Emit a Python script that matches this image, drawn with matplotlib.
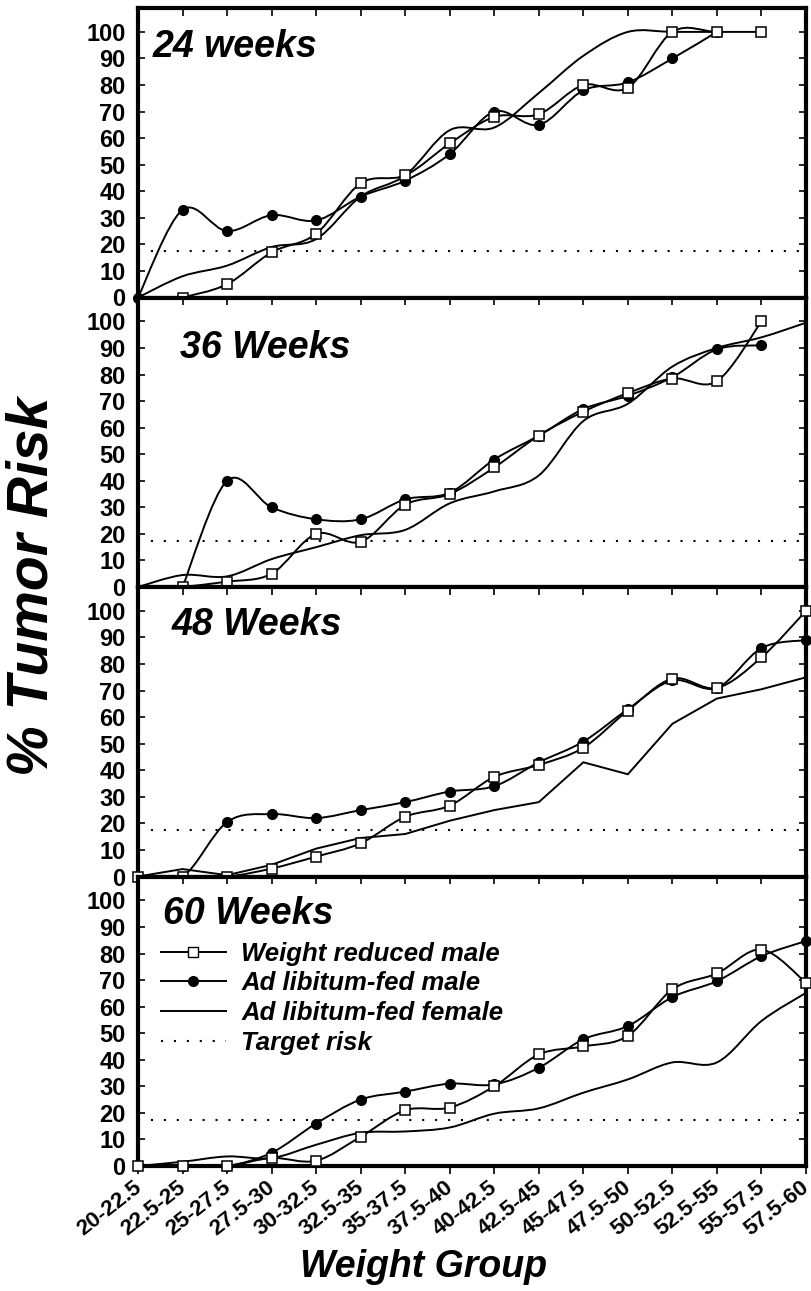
import numpy as np
import matplotlib
matplotlib.use("Agg")
import matplotlib.pyplot as plt
from matplotlib.path import Path
from matplotlib.patches import PathPatch
from matplotlib.lines import Line2D
from matplotlib.transforms import ScaledTranslation

nan = np.nan

categories = ["20-22.5", "22.5-25", "25-27.5", "27.5-30", "30-32.5", "32.5-35",
              "35-37.5", "37.5-40", "40-42.5", "42.5-45", "45-47.5", "47.5-50",
              "50-52.5", "52.5-55", "55-57.5", "57.5-60"]

panel_titles = ["24 weeks", "36 Weeks", "48 Weeks", "60 Weeks"]

# Weight reduced male (open squares)
reduced_24 = [nan, 0, 5, 17, 24, 43, 46, 58, 68, 69, 80, 79, 100, 100, 100, nan]
reduced_36 = [nan, 0, 2, 5, 20, 17, 31, 35, 45, 57, 66, 73, 78.5, 77.5, 100, nan]
reduced_48 = [0, 0, 0, 3, 7.5, 12.5, 22.5, 26.7, 37.5, 42, 48.5, 62.5, 74.5, 71, 82.5, 100]
reduced_60 = [0, 0, 0, 3, 2, 11, 21, 22, 30, 42, 45, 49, 66.5, 72.5, 81.5, 69]

# Ad libitum-fed male (filled circles)
adlib_m_24 = [0, 33, 25, 31, 29, 38, 44, 54, 70, 65, 78, 81, 90, 100, nan, nan]
adlib_m_36 = [nan, 0, 40, 30, 25.5, 25.5, 33, 35.5, 48, 57, 67, 72, 79, 89.5, 91, nan]
adlib_m_48 = [0, 0, 20.5, 23.5, 22, 25, 28, 32, 34, 43, 50.8, 63, 73.8, 71, 86, 89]
adlib_m_60 = [nan, 0, 0, 5, 16, 25, 28, 31, 30.7, 37, 47.7, 52.7, 63.6, 69.6, 79, 84.7]

# Ad libitum-fed female (plain line)
adlib_f_24 = [0, 8, 12, 19, 22, 38, 46, 63, 64, 77, 91, 100, 100, 100, nan, nan]
adlib_f_36 = [0, 4.5, 4, 10.5, 15, 19.5, 21.5, 31.5, 36, 42, 62.5, 69, 83, 90, 94, 99.5]
adlib_f_48 = [0, 2.8, 0.5, 4.4, 10.5, 14.5, 16, 21, 25, 28, 43, 38.5, 57.5, 67, 70.5, 75]
adlib_f_60 = [0, 1.6, 3.6, 3, 8, 12.5, 13, 14.5, 19.7, 21.7, 27.6, 32.6, 39, 39, 54.6, 65.2]

target_risk = 17.5

reduced = [reduced_24, reduced_36, reduced_48, reduced_60]
adlib_m = [adlib_m_24, adlib_m_36, adlib_m_48, adlib_m_60]
adlib_f = [adlib_f_24, adlib_f_36, adlib_f_48, adlib_f_60]
female_smooth = [True, True, False, True]

FONT = "Liberation Sans"
W, H = 811, 1291
fig = plt.figure(figsize=(W / 100, H / 100), dpi=100)

x = np.arange(len(categories))


def curve(ax, xs, ys, smooth=True, lw=1.4):
    ys = np.asarray(ys, dtype=float)
    m = ~np.isnan(ys)
    P = np.column_stack([np.asarray(xs, dtype=float)[m], ys[m]])
    n = len(P)
    verts = [P[0]]
    codes = [Path.MOVETO]
    for i in range(n - 1):
        if smooth:
            p0 = P[i - 1] if i > 0 else P[i]
            p1 = P[i]
            p2 = P[i + 1]
            p3 = P[i + 2] if i + 2 < n else P[i + 1]
            c1 = p1 + (p2 - p0) / 6.0
            c2 = p2 - (p3 - p1) / 6.0
            verts += [c1, c2, p2]
            codes += [Path.CURVE4] * 3
        else:
            verts.append(P[i + 1])
            codes.append(Path.LINETO)
    patch = PathPatch(Path(verts, codes), facecolor="none", edgecolor="black",
                      lw=lw, zorder=3)
    ax.add_patch(patch)


left_px, right_px = 138, 806
top_px, bottom_px = 8, 1166
ph = (bottom_px - top_px) / 4.0

axes = []
for i in range(4):
    t = top_px + i * ph
    ax = fig.add_axes([left_px / W, 1 - (t + ph) / H, (right_px - left_px) / W, ph / H])
    axes.append(ax)
    ax.set_xlim(0, len(categories) - 1)
    ax.set_ylim(0, 109)
    for s in ax.spines.values():
        s.set_linewidth(3)
    ax.axhline(target_risk, color="black", lw=1.5, ls=(0, (1, 5.2)), zorder=2)

    curve(ax, x, adlib_f[i], smooth=female_smooth[i])
    curve(ax, x, adlib_m[i])
    curve(ax, x, reduced[i])
    ax.plot(x, adlib_m[i], ls="none", marker="o", ms=7, mfc="black", mec="black",
            clip_on=False, zorder=5)
    ax.plot(x, reduced[i], ls="none", marker="s", ms=7, mfc="white", mec="black",
            mew=1.1, clip_on=False, zorder=6)

    ax.set_yticks(np.arange(0, 101, 10))
    ax.tick_params(axis="y", which="both", direction="in", left=True, right=True,
                   length=5, width=1.2, labelsize=17, pad=9)
    for lab in ax.get_yticklabels():
        lab.set_fontfamily(FONT)
        lab.set_fontweight("bold")

    ax.set_xticks(x)
    sec = ax.secondary_xaxis("top")
    sec.set_xticks(x)
    sec.tick_params(axis="x", direction="in", length=6, width=1.2, labeltop=False)
    sec.spines["top"].set_visible(False)

    if i < 3:
        ax.tick_params(axis="x", bottom=False, labelbottom=False)
    else:
        ax.tick_params(axis="x", direction="out", length=6, width=1.2, pad=2)
        ax.set_xticklabels(categories, rotation=38, ha="right", va="top",
                           rotation_mode="anchor", fontsize=16,
                           fontfamily=FONT, fontweight="bold")
        shift = ScaledTranslation(-4 / 72, 0, fig.dpi_scale_trans)
        for lab in ax.get_xticklabels():
            lab.set_transform(lab.get_transform() + shift)

title_pos = [(0.022, 0.865), (0.063, 0.827), (0.051, 0.869), (0.037, 0.869)]
for ax, ttl, (tx, ty) in zip(axes, panel_titles, title_pos):
    ax.text(tx, ty, ttl, transform=ax.transAxes, ha="left", va="center",
            fontsize=27, fontfamily=FONT, fontweight="bold", fontstyle="italic")

handles = [
    Line2D([], [], color="black", lw=1.4, marker="s", ms=7, mfc="white", mec="black"),
    Line2D([], [], color="black", lw=1.4, marker="o", ms=7, mfc="black", mec="black"),
    Line2D([], [], color="black", lw=1.4),
    Line2D([], [], color="black", lw=1.5, ls=(0, (1, 5.2))),
]
labels = ["Weight reduced male", "Ad libitum-fed male", "Ad libitum-fed female", "Target risk"]
axes[3].legend(handles, labels, loc="upper left", bbox_to_anchor=(0.035, 0.775),
               frameon=False, borderpad=0, borderaxespad=0, handlelength=2.5,
               handletextpad=0.6, labelspacing=0.22,
               prop=dict(family=FONT, weight="bold", style="italic", size=18.5))

fig.text(0.040, 1 - 586 / H, "% Tumor Risk", rotation=90, ha="center", va="center",
         fontsize=41, fontfamily=FONT, fontweight="bold", fontstyle="italic")
fig.text(423 / W, 1 - 1267 / H, "Weight Group", ha="center", va="center",
         fontsize=27, fontfamily=FONT, fontweight="bold", fontstyle="italic")

fig.savefig("out.png", dpi=100)
